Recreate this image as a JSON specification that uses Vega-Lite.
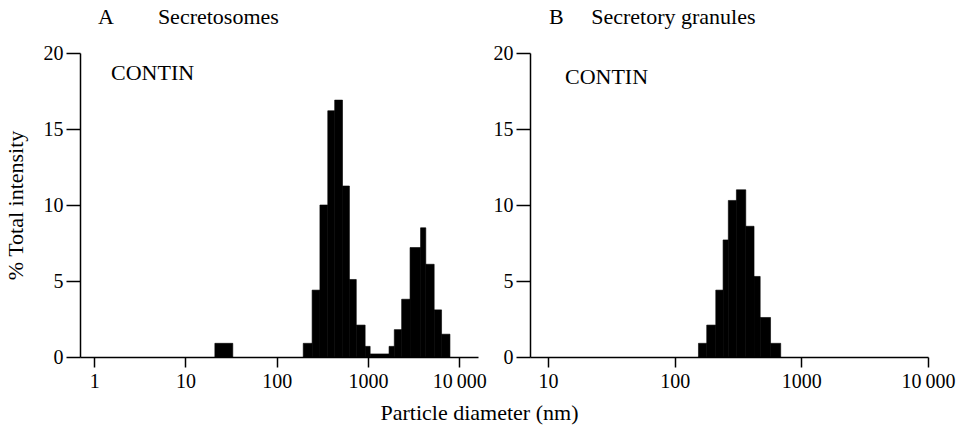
{
  "$schema": "https://vega.github.io/schema/vega-lite/v6.json",
  "background": "white",
  "padding": {"left": 4, "top": 6, "right": 5, "bottom": 5},
  "spacing": 6,
  "title": {"text": "Particle diameter (nm)", "orient": "bottom", "anchor": "middle", "fontSize": 22, "fontWeight": "normal", "font": "Liberation Serif", "color": "black", "offset": 12},
  "datasets": {
    "a": [
      {"lo": 21, "hi": 33, "pct": 0.9},
      {"lo": 195, "hi": 244, "pct": 0.9},
      {"lo": 244, "hi": 297, "pct": 4.4},
      {"lo": 297, "hi": 362, "pct": 10.0},
      {"lo": 362, "hi": 431, "pct": 16.2},
      {"lo": 431, "hi": 525, "pct": 16.9},
      {"lo": 525, "hi": 625, "pct": 11.25},
      {"lo": 625, "hi": 743, "pct": 5.1},
      {"lo": 743, "hi": 929, "pct": 2.1},
      {"lo": 929, "hi": 1054, "pct": 0.7},
      {"lo": 1054, "hi": 1698, "pct": 0.2},
      {"lo": 1698, "hi": 1938, "pct": 0.7},
      {"lo": 1938, "hi": 2333, "pct": 1.8},
      {"lo": 2333, "hi": 2884, "pct": 3.8},
      {"lo": 2884, "hi": 3758, "pct": 7.2},
      {"lo": 3758, "hi": 4289, "pct": 8.5},
      {"lo": 4289, "hi": 5297, "pct": 6.1},
      {"lo": 5297, "hi": 6382, "pct": 3.1},
      {"lo": 6382, "hi": 7889, "pct": 1.5}
    ],
    "b": [
      {"lo": 154, "hi": 179, "pct": 0.9},
      {"lo": 179, "hi": 211, "pct": 2.1},
      {"lo": 211, "hi": 241, "pct": 4.4},
      {"lo": 241, "hi": 265, "pct": 7.7},
      {"lo": 265, "hi": 307, "pct": 10.3},
      {"lo": 307, "hi": 364, "pct": 11.0},
      {"lo": 364, "hi": 423, "pct": 8.6},
      {"lo": 423, "hi": 473, "pct": 5.3},
      {"lo": 473, "hi": 571, "pct": 2.6},
      {"lo": 571, "hi": 687, "pct": 0.9}
    ],
    "lbl": [{"label": "CONTIN"}]
  },
  "hconcat": [
    {
      "width": 398,
      "height": 304,
      "title": {"text": "A\u00a0\u00a0\u00a0\u00a0\u00a0\u00a0\u00a0\u00a0Secretosomes", "anchor": "start", "frame": "group", "dx": 18, "offset": 14},
      "layer": [
        {
          "data": {"name": "a"},
          "mark": {"type": "rect", "color": "black", "stroke": "black", "strokeWidth": 0.6},
          "encoding": {
            "x": {"field": "lo", "type": "quantitative", "scale": {"type": "log", "domain": [0.7, 16000], "nice": false},
                  "axis": {"values": [1, 10, 100, 1000, 10000], "title": null, "labelExpr": "datum.value == 10000 ? '10\u2009000' : format(datum.value, 'd')"}},
            "x2": {"field": "hi"},
            "y": {"field": "pct", "type": "quantitative", "scale": {"domain": [0, 20], "nice": false},
                  "axis": {"values": [0, 5, 10, 15, 20], "title": "% Total intensity", "orient": "left"}},
            "y2": {"datum": 0}
          }
        },
        {
          "data": {"name": "lbl"},
          "mark": {"type": "text", "align": "left", "baseline": "middle", "fontSize": 22, "font": "Liberation Serif", "color": "black"},
          "encoding": {"text": {"field": "label"}, "x": {"datum": 1.53}, "y": {"datum": 18.7}}
        }
      ]
    },
    {
      "width": 398,
      "height": 304,
      "title": {"text": "B\u00a0\u00a0\u00a0\u00a0\u00a0Secretory granules", "anchor": "start", "frame": "group", "dx": 19, "offset": 14},
      "layer": [
        {
          "data": {"name": "b"},
          "mark": {"type": "rect", "color": "black", "stroke": "black", "strokeWidth": 0.6},
          "encoding": {
            "x": {"field": "lo", "type": "quantitative", "scale": {"type": "log", "domain": [7.2, 10000], "nice": false},
                  "axis": {"values": [10, 100, 1000, 10000], "title": null, "labelExpr": "datum.value == 10000 ? '10\u2009000' : format(datum.value, 'd')"}},
            "x2": {"field": "hi"},
            "y": {"field": "pct", "type": "quantitative", "scale": {"domain": [0, 20], "nice": false},
                  "axis": {"values": [0, 5, 10, 15, 20], "title": null, "orient": "left"}},
            "y2": {"datum": 0}
          }
        },
        {
          "data": {"name": "lbl"},
          "mark": {"type": "text", "align": "left", "baseline": "middle", "fontSize": 22, "font": "Liberation Serif", "color": "black"},
          "encoding": {"text": {"field": "label"}, "x": {"datum": 13.6}, "y": {"datum": 18.4}}
        }
      ]
    }
  ],
  "config": {
    "font": "Liberation Serif",
    "view": {"stroke": null},
    "title": {"font": "Liberation Serif", "fontSize": 22, "fontWeight": "normal", "color": "black"},
    "axis": {
      "grid": false,
      "domainColor": "black",
      "domainWidth": 1.5,
      "tickColor": "black",
      "tickWidth": 1.5,
      "labelColor": "black",
      "labelFont": "Liberation Serif",
      "labelFontSize": 20,
      "titleFont": "Liberation Serif",
      "titleFontSize": 22,
      "titleFontWeight": "normal",
      "titleColor": "black"
    },
    "axisX": {"tickSize": 10, "labelPadding": 4, "labelFlush": false},
    "axisY": {"tickSize": 14, "labelPadding": 3, "titlePadding": 16}
  }
}
